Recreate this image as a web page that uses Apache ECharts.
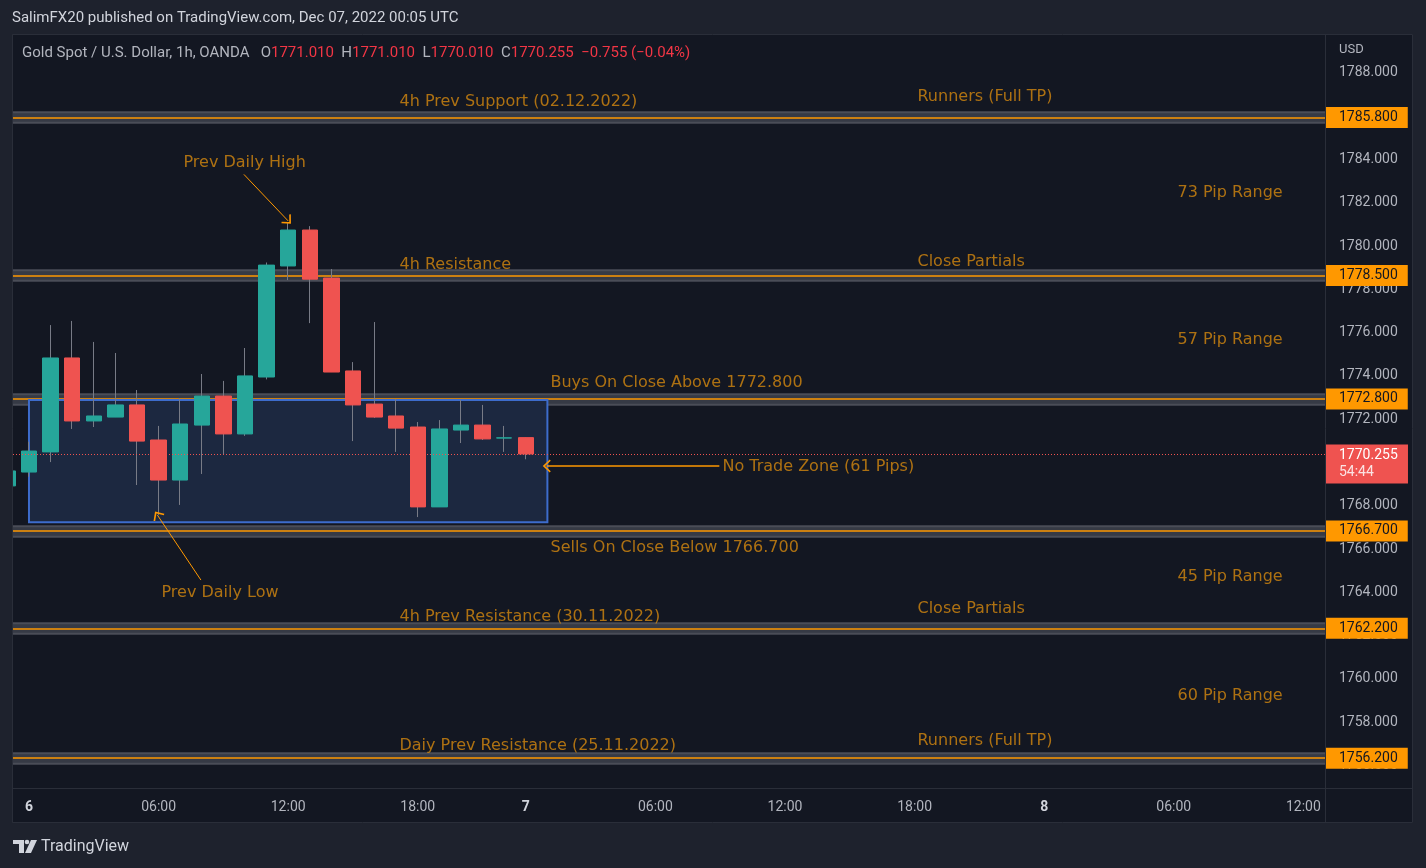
<!DOCTYPE html>
<html><head><meta charset="utf-8">
<script src="https://cdn.jsdelivr.net/npm/echarts@6/dist/echarts.min.js"></script>
<style>html,body{margin:0;padding:0;background:#1e222d;overflow:hidden}#c{width:1426px;height:868px}</style>
</head><body><div id="c"></div>
<script>
// ---- data ----
const barSlots = [-1,0,1,2,3,4,5,6,7,8,9,10,11,12,13,14,15,16,17,18,19,20,21,22,23];
const opens  = [1768.78,1769.42,1770.35,1774.69,1771.78,1771.96,1772.52,1770.90,1769.05,1771.59,1772.93,1771.18,1773.81,1778.94,1780.60,1778.38,1774.09,1772.56,1772.01,1771.50,1767.81,1771.36,1771.59,1770.99,1771.01];
const closes = [1769.47,1770.39,1774.69,1771.78,1772.01,1772.52,1770.85,1769.05,1771.64,1772.93,1771.18,1773.86,1778.98,1780.60,1778.33,1774.04,1772.52,1771.96,1771.45,1767.81,1771.41,1771.59,1770.95,1771.00,1770.255];
const lows   = [1768.70,1769.20,1769.88,1771.41,1771.50,1771.96,1768.82,1767.44,1767.90,1769.33,1770.25,1771.09,1773.70,1778.29,1776.30,1774.04,1770.85,1771.92,1770.35,1767.34,1767.81,1770.76,1770.90,1770.35,1770.01];
const highs  = [1769.50,1770.82,1776.21,1776.40,1775.43,1774.92,1773.21,1771.55,1772.84,1773.95,1773.63,1775.15,1779.10,1780.92,1780.78,1778.80,1774.50,1776.35,1772.79,1771.73,1771.82,1772.75,1772.52,1771.55,1771.01];

const levels = [1785.8, 1778.5, 1772.8, 1766.7, 1762.2, 1756.2];
const lastPrice = 1770.255;
const countdown = '54:44';

const priceTicks = [1756,1758,1760,1762,1764,1766,1768,1770,1772,1774,1776,1778,1780,1782,1784,1786,1788];
const timeTickSlots  = [0,6,12,18,23,29,35,41,47,53,59];
const timeTickLabels = ['6','06:00','12:00','18:00','7','06:00','12:00','18:00','8','06:00','12:00'];
const dayLabels = ['6','7','8'];

const annoTexts = ['4h Prev Support (02.12.2022)','Runners (Full TP)','Prev Daily High','73 Pip Range','4h Resistance','Close Partials','57 Pip Range','Buys On Close Above 1772.800','No Trade Zone (61 Pips)','Sells On Close Below 1766.700','45 Pip Range','Prev Daily Low','4h Prev Resistance (30.11.2022)','Close Partials','60 Pip Range','Daiy Prev Resistance (25.11.2022)','Runners (Full TP)'];
const annoSlots  = [17.13,41.11,7.13,53.15,17.13,41.11,53.15,24.12,32.08,24.12,53.15,6.11,17.13,41.11,53.15,17.13,41.11];
const annoPrices = [1786.51,1786.74,1783.70,1782.31,1778.98,1779.12,1775.52,1773.53,1769.65,1765.91,1764.57,1763.83,1762.73,1763.09,1759.08,1756.77,1757.00];

const arrowFrom = [[9.95,1783.17],[7.96,1764.43],[31.96,1769.70]];
const arrowTo   = [[12.0,1781.02],[5.94,1767.44],[23.97,1769.70]];
const zoneBox   = [[0,1772.75],[24,1767.10]];

const xMin = -0.74, xMax = 60.0, yMin = 1754.87, yMax = 1789.61;

// ---- build ----
const UP = '#26a69a', DOWN = '#ef5350', WICK = '#787b86', ORANGE = '#ff9800', TXT = '#d4880f', FRAME = '#1e222d';
const fullData = barSlots.map((s,i)=>[s, opens[i], closes[i], lows[i], highs[i]]);
const bodyData = barSlots.map((s,i)=>[s, opens[i], closes[i], Math.min(opens[i],closes[i]), Math.max(opens[i],closes[i])]);

const levelItems = [];
levels.forEach(L=>{
  levelItems.push({yAxis:L, lineStyle:{color:'#4a4d57', width:12.5, type:'solid'}, label:{show:false}});
  levelItems.push({yAxis:L, lineStyle:{color:'#363a45', width:8.5, type:'solid'}, label:{show:false}});
  levelItems.push({yAxis:L, lineStyle:{color:ORANGE, width:1.5, type:'solid'},
    label:{show:true, position:'end', distance:1, formatter:L.toFixed(3), backgroundColor:ORANGE,
      color:'#131722', fontFamily:'Roboto', fontSize:14, padding:[4,10,3,13], lineHeight:14}});
});

const chevron = 'path://M6,0 L12,7 L10.8,8 L6,2.4 L1.2,8 L0,7 Z';

const option = {
  backgroundColor:FRAME,
  animation:false,
  grid:{left:13, right:101, top:35, bottom:81, outerBoundsMode:'none', containLabel:false},
  xAxis:{type:'value', min:xMin, max:xMax,
    axisLine:{show:false}, axisTick:{show:false}, splitLine:{show:false},
    axisLabel:{customValues:timeTickSlots, color:'#b2b5be', fontFamily:'Roboto', fontSize:14, margin:13,
      formatter:(v)=>{const i=timeTickSlots.indexOf(Math.round(v)); const t=timeTickLabels[i]; return dayLabels.includes(t)?'{d|'+t+'}':t;},
      rich:{d:{fontWeight:'bold', color:'#d1d4dc', fontFamily:'Roboto', fontSize:14}}}},
  yAxis:{type:'value', position:'right', min:yMin, max:yMax, scale:true,
    axisLine:{show:false}, axisTick:{show:false}, splitLine:{show:false},
    axisLabel:{customValues:priceTicks, color:'#b2b5be', fontFamily:'Roboto', fontSize:14, margin:14,
      formatter:(v)=>'{n|'+v.toFixed(3)+'}',
      rich:{n:{color:'#b2b5be', fontFamily:'Roboto', fontSize:14, padding:[6,0,0,0]}}}},
  graphic:{elements:[
    {type:'rect', z:-10, silent:true, shape:{x:13,y:34,width:1400,height:789}, style:{fill:'#131722'}},
    {type:'rect', z:50, silent:true, shape:{x:0,y:34,width:12.5,height:789}, style:{fill:FRAME}},
    {type:'rect', z:51, silent:true, shape:{x:12.5,y:34.5,width:1400,height:788}, style:{fill:null, stroke:'#2a2e39', lineWidth:1}},
    {type:'line', z:51, silent:true, shape:{x1:1325.5,y1:34,x2:1325.5,y2:823}, style:{stroke:'#2a2e39', lineWidth:1}},
    {type:'line', z:51, silent:true, shape:{x1:13,y1:788.5,x2:1413,y2:788.5}, style:{stroke:'#2a2e39', lineWidth:1}},
    {type:'text', z:51, silent:true, x:12, y:18, style:{text:'SalimFX20 published on TradingView.com, Dec 07, 2022 00:05 UTC', fill:'#d1d4dc', fontFamily:'Roboto', fontSize:15, verticalAlign:'middle'}},
    {type:'text', z:51, silent:true, x:22, y:53, style:{
      text:'{g|Gold Spot / U.S. Dollar, 1h, OANDA}   {g|O}{r|1771.010}  {g|H}{r|1771.010}  {g|L}{r|1770.010}  {g|C}{r|1770.255}  {r|\u22120.755 (\u22120.04%)}',
      verticalAlign:'middle', fontFamily:'Roboto', fontSize:15,
      rich:{g:{fill:'#b2b5be', fontFamily:'Roboto', fontSize:15}, r:{fill:'#f23645', fontFamily:'Roboto', fontSize:15}}}},
    {type:'text', z:51, silent:true, x:1339, y:50, style:{text:'USD', fill:'#b2b5be', fontFamily:'Roboto', fontSize:13, verticalAlign:'middle'}},
    {type:'text', z:51, silent:true, x:41, y:847, style:{text:'TradingView', fill:'#d1d4dc', fontFamily:'Roboto', fontSize:16, verticalAlign:'middle'}},
    {type:'polygon', z:51, silent:true, shape:{points:[[13,840],[24,840],[24,853],[19,853],[19,844],[13,844]]}, style:{fill:'#d1d4dc'}},
    {type:'circle', z:51, silent:true, shape:{cx:27,cy:842,r:2.3}, style:{fill:'#d1d4dc'}},
    {type:'polygon', z:51, silent:true, shape:{points:[[31,840],[37,840],[31,853],[25,853]]}, style:{fill:'#d1d4dc'}}
  ]},
  series:[
    {type:'line', name:'levels', data:[], z:1, silent:true,
      markLine:{z:1, silent:true, symbol:['none','none'], animation:false, data:levelItems}},
    {type:'line', name:'zone', data:[], z:2, silent:true,
      markArea:{z:2, silent:true, itemStyle:{color:'#1c2840', borderColor:'#3d6ccc', borderWidth:2},
        data:[[{coord:zoneBox[0]},{coord:zoneBox[1]}]]}},
    {type:'candlestick', name:'wicks', z:3, silent:true, barWidth:0.01,
      dimensions:['slot','open','close','lowest','highest'], encode:{x:0,y:[1,2,3,4]},
      itemStyle:{color:WICK, color0:WICK, borderColor:WICK, borderColor0:WICK, borderWidth:1},
      data:fullData},
    {type:'candlestick', name:'bodies', z:4, silent:true, barWidth:16,
      dimensions:['slot','open','close','lowest','highest'], encode:{x:0,y:[1,2,3,4]},
      itemStyle:{color:UP, color0:DOWN, borderColor:UP, borderColor0:DOWN, borderWidth:1},
      data:bodyData},
    {type:'line', name:'last', data:[], z:5, silent:true,
      markLine:{z:5, silent:true, symbol:['none','none'], animation:false,
        data:[{yAxis:lastPrice, lineStyle:{color:DOWN, width:1, type:[1,2]}, label:{show:false}}]},
      markPoint:{z:5, silent:true, animation:false,
        data:[{coord:[xMax-0.001, lastPrice], symbol:'rect', symbolSize:[82,39], symbolOffset:[42,10],
          itemStyle:{color:DOWN},
          label:{show:true, position:'insideLeft', distance:13,
            formatter:'{p|'+lastPrice.toFixed(3)+'}\n{t|'+countdown+'}',
            rich:{p:{color:'#ffffff', fontFamily:'Roboto', fontSize:14, lineHeight:17},
                  t:{color:'#fbe3e3', fontFamily:'Roboto', fontSize:14, lineHeight:17}}}}]}},
    {type:'scatter', name:'notes', z:6, silent:true, symbolSize:1, itemStyle:{color:'transparent'},
      data:annoTexts.map((t,i)=>({name:t, value:[annoSlots[i], annoPrices[i]]})),
      label:{show:true, position:'right', distance:0, formatter:'{b}', color:TXT, fontFamily:'DejaVu Sans', fontSize:16},
      markLine:{z:6, silent:true, animation:false, symbol:['none', chevron], symbolSize:[13,8],
        label:{show:false},
        lineStyle:{color:ORANGE, width:1, type:'solid'},
        data:arrowFrom.map((f,i)=>[{coord:f, lineStyle:{width:i===2?1.5:1}},{coord:arrowTo[i]}])}}
  ]
};
const chart = echarts.init(document.getElementById('c'));
chart.setOption(option);
</script></body></html>
